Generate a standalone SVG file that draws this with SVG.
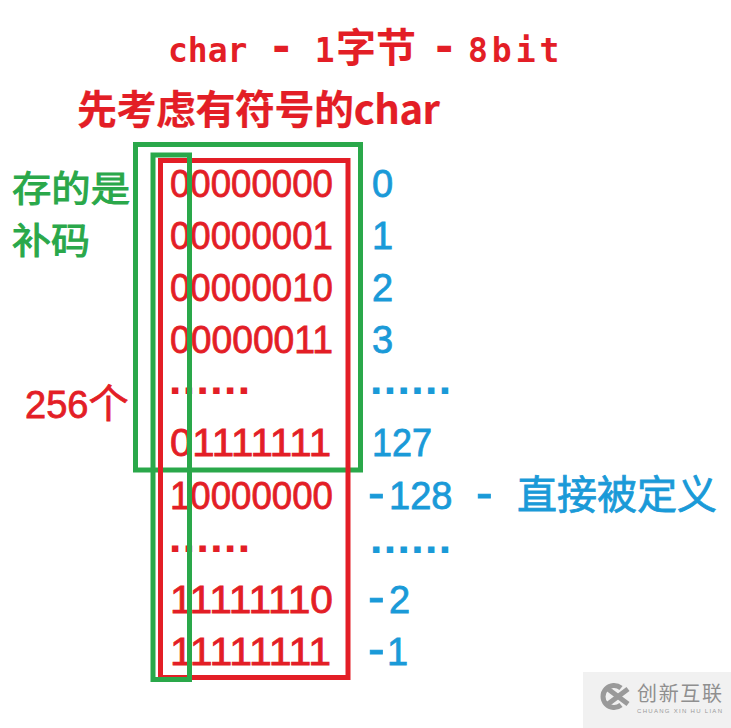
<svg xmlns="http://www.w3.org/2000/svg" width="731" height="728" viewBox="0 0 731 728">
<style>
.bg{fill:#ffffff}
.red{fill:#e31e26;stroke:#e31e26}
.blue{fill:#1a9ad8;stroke:#1a9ad8}
.green{fill:#2aa84a;stroke:#2aa84a}
text{stroke-width:0.8px}
.cjk{font-family:"Noto Sans CJK SC","Liberation Sans",sans-serif}
.mono{font-family:"DejaVu Sans Mono","Liberation Mono",monospace;font-weight:bold}
.num{font-family:"Liberation Sans","Noto Sans CJK SC",sans-serif;font-size:38px}
.dash{font-size:50px}
.dots{font-family:"Liberation Sans",sans-serif;font-weight:bold;font-size:30px;letter-spacing:5.4px;stroke-width:2.2px}
.box{fill:none;stroke-width:5}
.gbox{stroke:#2aa84a}
.rbox{stroke:#e31e26}
</style>
<rect class="bg" x="0" y="0" width="731" height="728"/>

<g id="title">
<text class="red" y="62" font-size="33" style="stroke:none"><tspan class="mono" x="168">char </tspan><tspan class="mono" x="268" font-size="44">-</tspan><tspan class="mono" x="295"> 1</tspan><tspan class="cjk" x="336" font-size="40" font-weight="bold">字节 </tspan><tspan class="mono" x="431" font-size="44">-</tspan><tspan class="mono" x="458" font-size="15"> </tspan><tspan class="mono" x="468" letter-spacing="4">8bit</tspan></text>
</g>

<g id="subtitle">
<text class="red cjk" x="77" y="124" font-size="40" font-weight="bold" textLength="363" style="stroke-width:0.2px">先考虑有符号的char</text>
</g>

<g id="label-complement">
<text class="green cjk" x="12" y="201.5" font-size="36" textLength="118" lengthAdjust="spacingAndGlyphs" style="stroke-width:1px">存的是</text>
<text class="green cjk" x="12" y="254" font-size="36" textLength="78" lengthAdjust="spacingAndGlyphs" style="stroke-width:1px">补码</text>
</g>

<g id="label-count">
<text class="red cjk" x="25" y="418"><tspan class="num" font-size="37">256</tspan><tspan font-size="40">个</tspan></text>
</g>

<g id="box-positive">
<rect class="box gbox" x="135.5" y="144.5" width="225" height="325.5"/>
</g>

<g id="box-all">
<rect class="box rbox" x="160.5" y="160.5" width="187.5" height="517"/>
</g>

<g id="binary">
<text class="red num" x="170" y="197" textLength="163" lengthAdjust="spacingAndGlyphs">00000000</text>
<text class="red num" x="170" y="249" textLength="163" lengthAdjust="spacingAndGlyphs">00000001</text>
<text class="red num" x="170" y="301" textLength="163" lengthAdjust="spacingAndGlyphs">00000010</text>
<text class="red num" x="170" y="353" textLength="163" lengthAdjust="spacingAndGlyphs">00000011</text>
<text class="red dots" x="171" y="393">......</text>
<text class="red num" x="170" y="456" textLength="161" lengthAdjust="spacingAndGlyphs">01111111</text>
<text class="red num" x="170" y="509" textLength="163" lengthAdjust="spacingAndGlyphs">10000000</text>
<text class="red dots" x="171" y="551">......</text>
<text class="red num" x="170" y="613" textLength="163" lengthAdjust="spacingAndGlyphs">11111110</text>
<text class="red num" x="170" y="665" textLength="161" lengthAdjust="spacingAndGlyphs">11111111</text>
</g>

<g id="values">
<text class="blue num" x="372" y="197">0</text>
<text class="blue num" x="372" y="249">1</text>
<text class="blue num" x="372" y="301">2</text>
<text class="blue num" x="372" y="353">3</text>
<text class="blue dots" x="372" y="393">......</text>
<text class="blue num" x="372" y="456" textLength="60" lengthAdjust="spacingAndGlyphs">127</text>
<text class="blue num" y="509"><tspan class="dash" x="368">-</tspan><tspan x="389">128 </tspan><tspan class="dash" x="476">- </tspan><tspan class="cjk" x="517" font-size="40">直接被定义</tspan></text>
<text class="blue dots" x="372" y="552">......</text>
<text class="blue num" y="613"><tspan class="dash" x="368">-</tspan><tspan x="389">2</tspan></text>
<text class="blue num" y="665"><tspan class="dash" x="368">-</tspan><tspan x="387">1</tspan></text>
</g>

<g id="box-sign-bit">
<rect class="box gbox" x="153" y="155" width="36.5" height="524.5"/>
</g>

<g id="connectors"/>

<g id="watermark">
<rect x="583" y="672" width="148" height="56" fill="#f1f1f1"/>
<path d="M621 688 A11 11 0 1 0 621 705" fill="none" stroke="#9a9a9a" stroke-width="5"/>
<path d="M608 689 L628 704 M628 689 L608 704" fill="none" stroke="#9a9a9a" stroke-width="5"/>
<text x="637" y="701" font-family="Noto Sans CJK SC,sans-serif" font-size="20" fill="#8f8f8f" textLength="85" style="stroke:none">创新互联</text>
<text x="637" y="713" font-family="Liberation Sans,sans-serif" font-size="6" fill="#9a9a9a" textLength="85" style="stroke:none">CHUANG XIN HU LIAN</text>
</g>
</svg>
